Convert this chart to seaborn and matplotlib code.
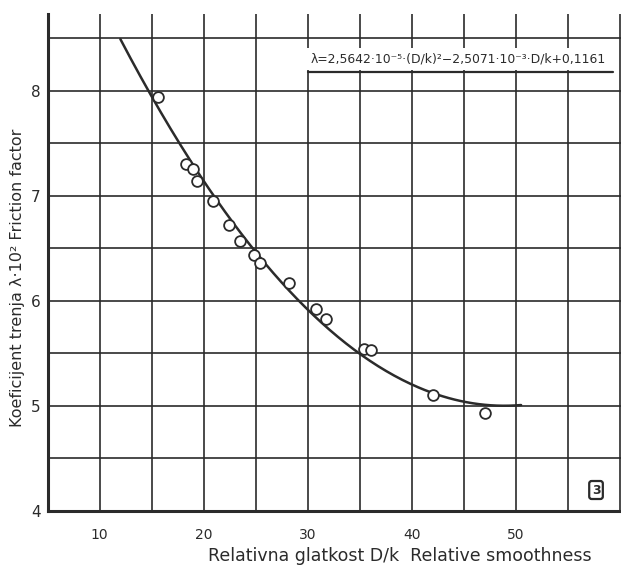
import numpy as np
import pandas as pd
import matplotlib
matplotlib.use("Agg")
import matplotlib.pyplot as plt
import seaborn as sns

# measured points: relative smoothness D/k and friction factor lambda*10^2
smoothness = [15.6, 18.3, 19.0, 19.4, 20.9, 22.4, 23.5, 24.8, 25.4, 28.2,
              30.8, 31.8, 35.4, 36.1, 42.0, 47.0]
friction = [7.94, 7.30, 7.25, 7.14, 6.95, 6.72, 6.57, 6.44, 6.36, 6.17,
            5.92, 5.83, 5.54, 5.53, 5.10, 4.93]

# fitted curve lambda = a*(D/k)^2 + b*(D/k) + c, drawn from D/k = 12 to 50.5
fit_coef = [2.5642e-5, -2.5071e-3, 0.1113]
fit_range = [12.0, 50.5]

x_ticks = [10, 20, 30, 40, 50]
y_ticks = [4, 5, 6, 7, 8]

formula = "λ=2,5642·10⁻⁵·(D/k)²−2,5071·10⁻³·D/k+0,1161"
ink = "#2b2b2b"


def main():
    sns.set_theme(style="white")
    plt.rcParams["font.family"] = ["DejaVu Sans"]

    fig = plt.figure(figsize=(6.21, 5.72), dpi=100)
    ax = fig.add_axes([0.0765, 0.1066, 0.9235, 0.869])

    pts = pd.DataFrame({"D/k": smoothness, "lam": friction})
    dk = np.linspace(fit_range[0], fit_range[1], 200)
    lam = (fit_coef[0] * dk ** 2 + fit_coef[1] * dk + fit_coef[2]) * 100
    curve = pd.DataFrame({"D/k": dk, "lam": lam})

    ax.set_xlim(5, 60.1)
    ax.set_ylim(4, 8.73)

    # hand-drawn grid: every 5 in D/k, every 0.5 in lambda
    for gx in range(10, 61, 5):
        ax.axvline(gx, color=ink, lw=1.2, zorder=1)
    for gy in np.arange(4.5, 8.6, 0.5):
        ax.axhline(gy, color=ink, lw=1.2, zorder=1)

    sns.lineplot(data=curve, x="D/k", y="lam", color=ink, lw=1.8, ax=ax, zorder=3)
    sns.scatterplot(data=pts, x="D/k", y="lam", s=60, facecolor="white",
                    edgecolor=ink, linewidth=1.3, ax=ax, zorder=4)

    ax.text(30.3, 8.3, formula, fontsize=8.9, color=ink, va="center", ha="left",
            bbox=dict(facecolor="white", edgecolor="none", pad=3), zorder=5)
    ax.plot([30, 59.3], [8.18, 8.18], color=ink, lw=1.6, zorder=5)

    ax.text(57.7, 4.2, "3", fontsize=9, fontweight="bold", color=ink,
            ha="center", va="center",
            bbox=dict(facecolor="white", edgecolor=ink, lw=1.6,
                      boxstyle="round,pad=0.2"), zorder=5)

    ax.set_xticks(x_ticks)
    ax.set_yticks(y_ticks)
    ax.tick_params(axis="x", direction="out", length=8, width=1.2, color=ink,
                   labelsize=10, labelcolor=ink, pad=4)
    ax.tick_params(axis="y", direction="out", length=3, width=1.2, color=ink,
                   labelsize=11, labelcolor=ink, pad=2)
    ax.set_xlabel("Relativna glatkost D/k  Relative smoothness", fontsize=12.5, color=ink)
    ax.set_ylabel("Koeficijent trenja λ·10² Friction factor", fontsize=11.5, color=ink)
    ax.xaxis.set_label_coords(0.615, -0.072)
    ax.yaxis.set_label_coords(-0.04, 0.47)

    for side in ["top", "right"]:
        ax.spines[side].set_visible(False)
    for side in ["left", "bottom"]:
        ax.spines[side].set_color(ink)
        ax.spines[side].set_linewidth(2.2)

    fig.savefig("out.png", dpi=100, facecolor="white")


if __name__ == "__main__":
    main()
